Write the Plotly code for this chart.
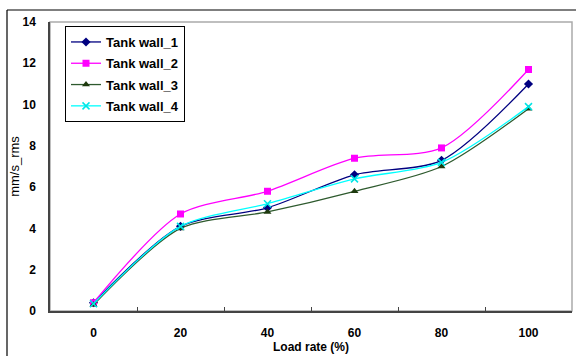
import plotly.graph_objects as go

categories = ["0", "20", "40", "60", "80", "100"]
wall_1 = [0.4, 4.1, 5.0, 6.6, 7.3, 11.0]
wall_2 = [0.4, 4.7, 5.8, 7.4, 7.9, 11.7]
wall_3 = [0.3, 4.0, 4.8, 5.8, 7.0, 9.8]
wall_4 = [0.35, 4.1, 5.2, 6.4, 7.2, 9.9]
series_names = ["Tank wall_1", "Tank wall_2", "Tank wall_3", "Tank wall_4"]
y_ticks = [0, 2, 4, 6, 8, 10, 12, 14]
y_range = [0, 14]

styles = [
    dict(line="#000080", marker="#000080", symbol="diamond", size=7),
    dict(line="#FF00FF", marker="#FF00FF", symbol="square", size=7),
    dict(line="#2E5A2E", marker="#1E3A0E", symbol="triangle-up", size=7),
    dict(line="#00FFFF", marker="#00E5E5", symbol="x-thin", size=7),
]

fig = go.Figure()
for i, (name, vals) in enumerate(zip(series_names, [wall_1, wall_2, wall_3, wall_4])):
    s = styles[i]
    mk = dict(color=s["marker"], symbol=s["symbol"], size=s["size"])
    if s["symbol"] == "x-thin":
        mk["line"] = dict(color=s["marker"], width=1.5)
    fig.add_trace(go.Scatter(
        x=categories, y=vals, name=name, mode="lines+markers",
        line=dict(color=s["line"], width=1.3, shape="spline", smoothing=0.8),
        marker=mk, legendgroup=name,
    ))

W, H = 576, 356
L, R, T, B = 50, 4, 22, 45
pw, ph = W - L - R, H - T - B

def px_x(x):
    return (x - L) / pw

def px_y(y):
    return (H - B - y) / ph

fig.update_layout(
    width=W, height=H,
    margin=dict(l=L, r=R, t=T, b=B, autoexpand=False),
    paper_bgcolor="white", plot_bgcolor="white",
    font=dict(family="Liberation Sans, Arial, sans-serif", size=12, color="black"),
    showlegend=True,
    legend=dict(
        x=px_x(65), y=px_y(26), xanchor="left", yanchor="top",
        bordercolor="black", borderwidth=1, bgcolor="white",
        font=dict(size=13, family="Liberation Sans, Arial, sans-serif", weight="bold"),
        traceorder="grouped", tracegroupgap=1.4, itemwidth=30,
    ),
    xaxis=dict(
        type="category", range=[-0.5, 5.5], tickson="boundaries",
        ticks="inside", ticklen=4, tickcolor="#444",
        showline=True, linecolor="#444", linewidth=1.5,
        showgrid=False, zeroline=False,
        tickfont=dict(size=12, weight="bold"), ticklabelstandoff=10,
        title=dict(text="Load rate (%)", font=dict(size=12, weight="bold"), standoff=2),
    ),
    yaxis=dict(
        range=y_range, tickvals=y_ticks, ticks="outside", ticklen=10,
        tickcolor="rgba(0,0,0,0)",
        showline=True, linecolor="#444", linewidth=1.5,
        showgrid=False, zeroline=False,
        tickfont=dict(size=12, weight="bold"),
        title=dict(text="mm/s_rms", font=dict(size=13), standoff=0),
    ),
    yaxis2=dict(
        overlaying="y", side="left", range=y_range, tickvals=y_ticks,
        ticks="inside", ticklen=4, tickcolor="#444",
        showticklabels=False, showline=False, showgrid=False, zeroline=False,
    ),
    shapes=[
        dict(type="rect", xref="paper", yref="paper", x0=0, x1=1, y0=0, y1=1,
             line=dict(color="#AAAAAA", width=1.5), layer="below"),
        dict(type="line", xref="paper", yref="paper", x0=px_x(7), x1=px_x(W + 5),
             y0=px_y(10), y1=px_y(10), line=dict(color="black", width=1.2)),
        dict(type="line", xref="paper", yref="paper", x0=px_x(7), x1=px_x(7),
             y0=px_y(10), y1=px_y(H + 5), line=dict(color="black", width=1.2)),
    ],
)

fig.write_html("out.html", config={"displayModeBar": False},
               post_script="document.body.style.margin='0';document.body.style.overflow='hidden';")
